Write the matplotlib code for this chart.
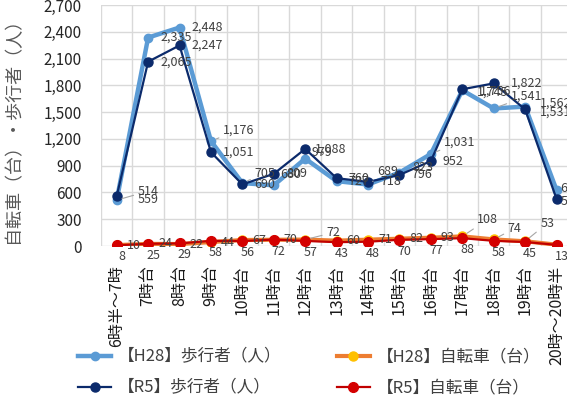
import matplotlib
matplotlib.use('Agg')
import matplotlib.pyplot as plt
from matplotlib.ticker import MultipleLocator, FuncFormatter

plt.rcParams['font.family'] = ['Noto Sans CJK JP', 'DejaVu Sans']

categories = ['6時半～7時', '7時台', '8時台', '9時台', '10時台', '11時台', '12時台',
              '13時台', '14時台', '15時台', '16時台', '17時台', '18時台', '19時台',
              '20時～20時半']

h28_walk = [514, 2335, 2448, 1176, 705, 680, 979, 727, 689, 823, 1031, 1745, 1541, 1562, 627]
h28_bike = [10, 24, 22, 44, 67, 70, 72, 60, 71, 82, 93, 108, 74, 53, 15]
r5_walk = [559, 2065, 2247, 1051, 690, 809, 1088, 760, 718, 796, 952, 1756, 1822, 1531, 526]
r5_bike = [8, 25, 29, 58, 56, 72, 57, 43, 48, 70, 77, 88, 58, 45, 13]

names = ['【H28】歩行者（人）', '【H28】自転車（台）', '【R5】歩行者（人）', '【R5】自転車（台）']

# label offsets in pixels (dx, dy, leader line) where Excel moved them
moved_h28_walk = {0: (21, 9, True), 3: (12, 11, True), 4: (12, 10, True), 5: (6, 11, False),
                  6: (6, 6, False), 8: (9, 13, True), 9: (13, 5, False), 10: (13, 12, True),
                  11: (15, -2, False), 12: (17, 12, True), 13: (15, 3, False), 14: (4, 2, False)}
moved_r5_walk = {0: (21, -3, False), 5: (13, 0, False), 6: (10, 0, False), 11: (18, -2, False),
                 12: (17, 0, False), 13: (15, -3, False), 14: (4, -2, False)}
moved_h28_bike = {6: (21, 7, True), 11: (15, 17, True), 12: (14, 11, True), 13: (15, 18, True)}

fig = plt.figure(figsize=(5.67, 4.01), dpi=100)
ax = fig.add_axes([0.1781, 0.3865, 0.8312, 0.601])

x = list(range(len(categories)))
l1, = ax.plot(x, h28_walk, color='#5B9BD5', lw=3.2, marker='o', ms=6, zorder=3)
l2, = ax.plot(x, h28_bike, color='#ED7D31', lw=3.0, marker='o', ms=6.5,
              mfc='#FFC000', mec='#FFC000', zorder=3)
l3, = ax.plot(x, r5_walk, color='#0B2A6B', lw=1.6, marker='o', ms=6.5, zorder=4)
l4, = ax.plot(x, r5_bike, color='#C00000', lw=1.6, marker='o', ms=7,
              mfc='#D40000', mec='#D40000', zorder=4)

def put_labels(vals, moved, dx0, dy0, ha, va):
    for i, v in enumerate(vals):
        dx, dy, lead = moved.get(i, (dx0, dy0, False))
        ap = None
        if lead:
            ap = dict(arrowstyle='-', color='#A6A6A6', lw=0.8, shrinkA=1, shrinkB=4)
        ax.annotate(f'{v:,}', xy=(i, v), xytext=(dx, dy), textcoords='offset pixels',
                    ha=ha, va=va, fontsize=9, color='#404040', arrowprops=ap,
                    annotation_clip=False, zorder=6)

put_labels(h28_walk, moved_h28_walk, 12, 0, 'left', 'center')
put_labels(r5_walk, moved_r5_walk, 12, 0, 'left', 'center')
put_labels(h28_bike, moved_h28_bike, 10, 0, 'left', 'center')
put_labels(r5_bike, {}, 5, -5, 'center', 'top')

ax.set_xlim(-0.5, len(categories) - 0.5)
ax.set_ylim(0, 2700)
ax.yaxis.set_major_locator(MultipleLocator(300))
ax.yaxis.set_major_formatter(FuncFormatter(lambda v, p: f'{int(v):,}'))
ax.set_xticks(x)
ax.set_xticklabels(categories, rotation=90, fontsize=11.5, color='#1a1a1a')
ax.set_xticks([i - 0.5 for i in x] + [len(x) - 0.5], minor=True)
ax.tick_params(axis='x', which='both', length=0, pad=14)
ax.tick_params(axis='y', length=0, labelsize=11, colors='#262626', pad=14)
ax.grid(axis='y', which='major', color='#D9D9D9', lw=1)
ax.grid(axis='x', which='minor', color='#D9D9D9', lw=1)
for s in ax.spines.values():
    s.set_visible(False)
ax.set_axisbelow(True)

ax.set_ylabel('自転車（台）・歩行者（人）', fontsize=13, color='#595959')
ax.yaxis.set_label_coords(-0.168, 0.5)

fig.legend([l1, l3, l2, l4], [names[0], names[2], names[1], names[3]], ncol=2,
           loc='center', bbox_to_anchor=(0.545, 0.071), frameon=False, fontsize=12,
           handlelength=2.0, columnspacing=3.3, labelspacing=0.85, handletextpad=0.4,
           labelcolor='#404040')

fig.savefig('out.png', dpi=100)
